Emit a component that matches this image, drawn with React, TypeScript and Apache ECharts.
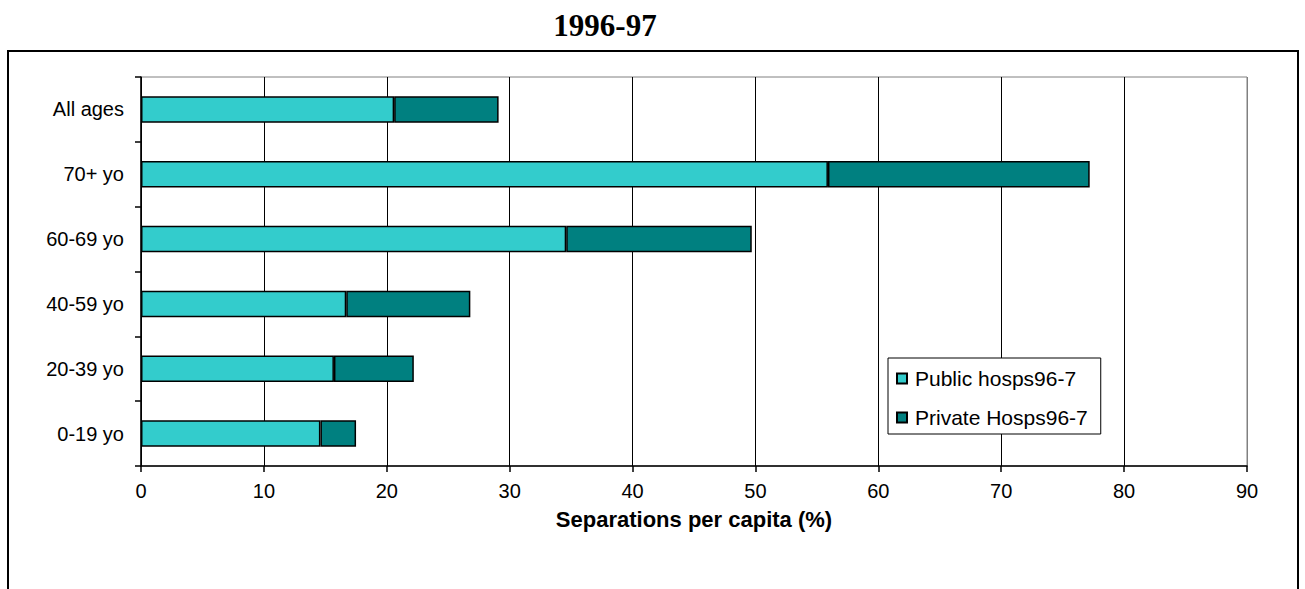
import React, { useEffect, useRef } from "react";
import * as echarts from "echarts";

const categories = ["0-19 yo", "20-39 yo", "40-59 yo", "60-69 yo", "70+ yo", "All ages"];
const publicHosps = [14.6, 15.7, 16.7, 34.6, 55.9, 20.6];
const privateHosps = [2.9, 6.5, 10.1, 15.1, 21.3, 8.5];
const xTicks = [0, 10, 20, 30, 40, 50, 60, 70, 80, 90];

export default function App() {
  const ref = useRef<HTMLDivElement>(null);
  useEffect(() => {
    if (!ref.current) return;
    const chart = echarts.init(ref.current, null, { renderer: "svg" });
    const font = "Arial, 'Liberation Sans', sans-serif";
    chart.setOption({
      animation: false,
      backgroundColor: "#fff",
      title: {
        text: "1996-97",
        left: 600,
        top: 5,
        textAlign: "center",
        textStyle: { fontFamily: "'Times New Roman', 'Liberation Serif', serif", fontWeight: "bold", fontSize: 31, color: "#000" },
      },
      graphic: [
        {
          type: "rect",
          shape: { x: 8, y: 51, width: 1290, height: 600 },
          style: { fill: "none", stroke: "#000", lineWidth: 2 },
          silent: true,
          z: -10,
        },
      ],
      legend: {
        orient: "vertical",
        left: 888,
        top: 358,
        padding: [10, 13, 6, 8],
        itemGap: 18,
        itemWidth: 10,
        itemHeight: 10,
        borderColor: "#000",
        borderWidth: 1,
        backgroundColor: "#fff",
        icon: "rect",
        textStyle: { fontFamily: font, fontSize: 21, color: "#000", padding: [0, 0, 0, 3] },
        data: ["Public hosps96-7", "Private Hosps96-7"],
      },
      grid: {
        left: 141,
        right: 58,
        top: 77,
        bottom: 123,
        show: true,
        borderColor: "#808080",
        borderWidth: 1,
        backgroundColor: "transparent",
      },
      xAxis: {
        type: "value",
        min: xTicks[0],
        max: xTicks[xTicks.length - 1],
        interval: 10,
        name: "Separations per capita (%)",
        nameLocation: "middle",
        nameGap: 42,
        nameTextStyle: { fontFamily: font, fontWeight: "bold", fontSize: 22, color: "#000" },
        axisLine: { show: true, lineStyle: { color: "#000", width: 1.5 } },
        axisTick: { show: true, length: 6, lineStyle: { color: "#000", width: 1.5 } },
        axisLabel: { fontFamily: font, fontSize: 20, color: "#000", margin: 15 },
        splitLine: {
          show: true,
          lineStyle: {
            color: ["#000", "#000", "#000", "#000", "#000", "#000", "#000", "#000", "#000", "#808080"],
            width: 1,
          },
        },
      },
      yAxis: {
        type: "category",
        data: categories,
        axisLine: { show: true, lineStyle: { color: "#000", width: 1.5 } },
        axisTick: { show: true, length: 6, lineStyle: { color: "#000", width: 1.5 } },
        axisLabel: { fontFamily: font, fontSize: 20, color: "#000", margin: 17 },
        splitLine: { show: false },
      },
      series: [
        {
          name: "Public hosps96-7",
          type: "bar",
          stack: "total",
          barWidth: "41%",
          data: publicHosps,
          itemStyle: { color: "#33CCCC", borderColor: "#000", borderWidth: 1.5 },
        },
        {
          name: "Private Hosps96-7",
          type: "bar",
          stack: "total",
          barWidth: "41%",
          data: privateHosps,
          itemStyle: { color: "#008080", borderColor: "#000", borderWidth: 1.5 },
        },
      ],
    });
    return () => chart.dispose();
  }, []);
  return (
    <div
      ref={ref}
      style={{ position: "fixed", left: 0, top: 0, width: 1305, height: 589 }}
    />
  );
}
